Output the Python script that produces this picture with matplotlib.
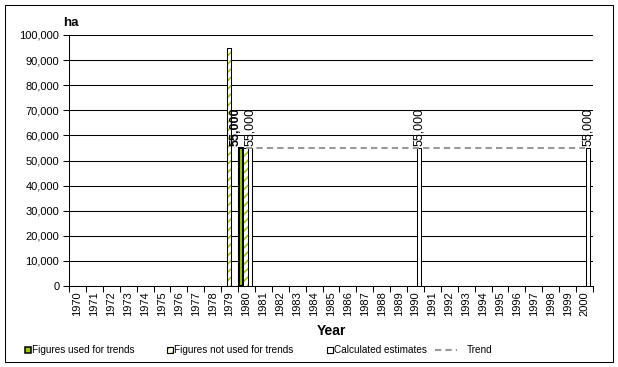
import matplotlib
matplotlib.use("Agg")
import matplotlib.pyplot as plt
from matplotlib.patches import Rectangle
from matplotlib.lines import Line2D
import numpy as np

plt.rcParams['font.family'] = ['Liberation Sans', 'DejaVu Sans']
plt.rcParams['hatch.linewidth'] = 1.2

years = list(range(1970, 2001))
used_years = [1980]
used_vals = [55000]
notused_years = [1979, 1980]
notused_vals = [95000, 55000]
calc_years = [1980, 1990, 2000]
calc_vals = [55000, 55000, 55000]
trend_years = list(range(1980, 2001))
trend_vals = [55000] * len(trend_years)
label_notused = {1980: "55,000"}
label_calc = {1980: "55,000", 1990: "55,000", 2000: "55,000"}

GREEN = "#99cc00"
W = 0.26
OFF = {"used": -0.31, "notused": -0.05, "calc": 0.22}
LW = 0.75

fig = plt.figure(figsize=(6.18, 3.67), dpi=100)
ax = fig.add_axes([69/618, 1-286/367, (593-69)/618, (286-35)/367])

idx = {y: i for i, y in enumerate(years)}

ax.set_xlim(-0.5, len(years) - 0.5)
ax.set_ylim(0, 100000)
ax.set_yticks(np.arange(0, 100001, 10000))
ax.set_yticklabels([f"{v:,}" for v in range(0, 100001, 10000)], fontsize=8)
ax.grid(axis='y', color='black', linewidth=LW)
ax.set_axisbelow(True)

# tick marks at category boundaries, labels at centers
ax.set_xticks(np.arange(-0.5, len(years), 1.0))
ax.set_xticklabels([])
ax.set_xticks(np.arange(len(years)), minor=True)
ax.set_xticklabels([str(y) for y in years], minor=True, rotation=90, fontsize=8)
ax.tick_params(axis='x', which='minor', length=0, pad=4)
ax.tick_params(axis='x', which='major', length=4, width=LW, direction='out')
ax.tick_params(axis='y', length=4, width=LW, direction='out', pad=3)

for s in ['top', 'right']:
    ax.spines[s].set_visible(False)
for s in ['left', 'bottom']:
    ax.spines[s].set_linewidth(LW)

# bars
xu = [idx[y] + OFF["used"] for y in used_years]
ax.bar(xu, used_vals, width=W, color=GREEN, edgecolor='black', linewidth=1.5, zorder=3)
xn = [idx[y] + OFF["notused"] for y in notused_years]
ax.bar(xn, notused_vals, width=W, color='white', edgecolor=GREEN, hatch='////', linewidth=0, zorder=3)
ax.bar(xn, notused_vals, width=W, color='none', edgecolor='black', linewidth=LW, zorder=3)
xc = [idx[y] + OFF["calc"] for y in calc_years]
ax.bar(xc, calc_vals, width=W, color='white', edgecolor='black', linewidth=LW, zorder=3)

# data labels
for y, v in zip(notused_years, notused_vals):
    if y in label_notused:
        ax.text(idx[y] - 0.62, v + 700, label_notused[y], rotation=90,
                ha='center', va='bottom', fontsize=9, fontweight='bold', zorder=5)
for y, v in zip(calc_years, calc_vals):
    if y in label_calc:
        ax.text(idx[y] + OFF["calc"], v + 700, label_calc[y], rotation=90,
                ha='center', va='bottom', fontsize=9, zorder=5)

# trend
DASH = (0, (3, 2))
ax.plot([idx[y] for y in trend_years], trend_vals, color='#999999', linestyle=DASH,
        linewidth=1.5, zorder=4)

fig.text(63/618, 1-23/367, "ha", fontsize=9.5, fontweight='bold', ha='left', va='center')
fig.text(331/618, 1-331/367, "Year", fontsize=10, fontweight='bold', ha='center', va='center')

# legend
FS = 7.2
ly = 1 - 350/367
def sq(x, face, hatch=None, ec='black', lw=0.8):
    r = Rectangle((x/618, ly - 3/367), 6/618, 6/367, transform=fig.transFigure,
                  facecolor=face, edgecolor=ec, linewidth=lw, hatch=hatch)
    fig.patches.append(r)
sq(25, GREEN, lw=1.1)
fig.text(32/618, ly, "Figures used for trends", fontsize=FS, va='center')
r = Rectangle((167/618, ly - 3/367), 6/618, 6/367, transform=fig.transFigure,
              facecolor='white', edgecolor=GREEN, hatch='////', linewidth=0)
fig.patches.append(r)
sq(167, 'none')
fig.text(174/618, ly, "Figures not used for trends", fontsize=FS, va='center')
sq(327, 'white')
fig.text(334/618, ly, "Calculated estimates", fontsize=FS, va='center')
fig.lines.append(Line2D([435/618, 457/618], [ly, ly], transform=fig.transFigure,
                        color='#999999', linestyle=DASH, linewidth=1.5))
fig.text(467/618, ly, "Trend", fontsize=FS, va='center')

# figure border
fig.patches.append(Rectangle((5/618, 5/367), 608/618, 357/367, transform=fig.transFigure,
                             facecolor='none', edgecolor='black', linewidth=LW))

fig.savefig("out.png", dpi=100)
